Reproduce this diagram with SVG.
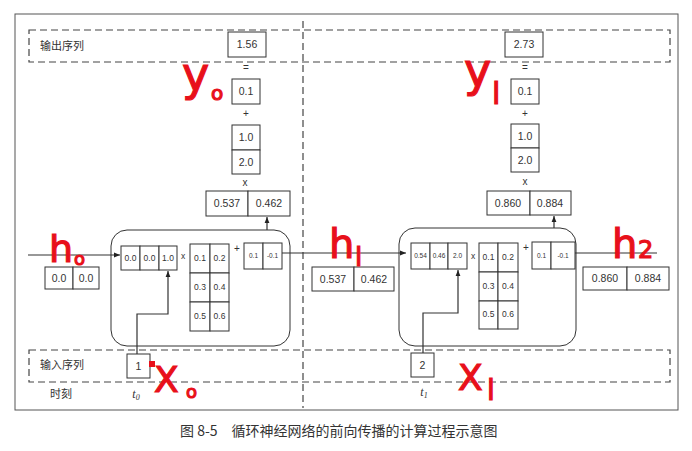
<svg xmlns="http://www.w3.org/2000/svg" width="692" height="451" viewBox="0 0 692 451">
<defs>
<marker id="ah" viewBox="0 0 10 10" refX="10" refY="5" markerWidth="6" markerHeight="6" orient="auto" markerUnits="userSpaceOnUse"><path d="M0,1 L10,5 L0,9 z" fill="#222"/></marker>
<style>
.b{fill:#fff;stroke:#333;stroke-width:1}
.ln{fill:none;stroke:#333;stroke-width:1.2}
.d{fill:none;stroke:#444;stroke-width:1.2;stroke-dasharray:7,4}
.t{font-family:"Liberation Sans","Open Sans",sans-serif;fill:#333;text-anchor:middle}
.m{font-size:10.5px}
.s{font-size:8.5px}
.xs{font-size:6.5px}
.op{font-size:10px}
.cn{font-family:"Noto Sans CJK SC",sans-serif;fill:#333;font-size:11px}
.r{font-family:"DejaVu Sans",sans-serif;fill:#e8101a;stroke:#e8101a;stroke-width:1.2}
</style>
</defs>
<rect x="0" y="0" width="692" height="451" fill="#fff"/>
<rect x="15" y="14" width="663" height="396" fill="none" stroke="#555" stroke-width="1"/>
<g id="output-seq">
<rect class="d" x="29" y="30" width="641" height="32"/>
<text class="cn" x="40" y="50">输出序列</text>
</g>
<g id="input-seq">
<rect class="d" x="29" y="350" width="641" height="32"/>
<text class="cn" x="40" y="369">输入序列</text>
<text class="cn" x="50" y="398">时刻</text>
</g>
<line x1="303" y1="21" x2="303" y2="408" class="d"/>
<g id="connectors">
<line class="ln" x1="28" y1="255" x2="120" y2="255" marker-end="url(#ah)"/>
<line class="ln" x1="282" y1="253" x2="406" y2="253" marker-end="url(#ah)"/>
<line class="ln" x1="575" y1="253" x2="657" y2="253"/>
<polyline class="ln" points="137,354 137,314 168,314 168,271" marker-end="url(#ah)"/>
<polyline class="ln" points="423,353 423,313 458,313 458,270" marker-end="url(#ah)"/>
<line class="ln" x1="267" y1="230" x2="267" y2="217" marker-end="url(#ah)"/>
<line class="ln" x1="554" y1="228" x2="554" y2="216" marker-end="url(#ah)"/>
</g>
<g id="y0">
<rect class="b" x="228" y="32" width="38" height="25"/><text class="t m" x="247" y="48">1.56</text>
<text class="t op" x="246" y="71">=</text>
<rect class="b" x="232" y="79" width="28" height="25"/><text class="t m" x="246" y="95">0.1</text>
<text class="t op" x="246" y="117">+</text>
<rect class="b" x="232" y="125" width="28" height="25"/><text class="t m" x="246" y="141">1.0</text>
<rect class="b" x="232" y="150" width="28" height="24"/><text class="t m" x="246" y="166">2.0</text>
<text class="t op" x="245" y="186">x</text>
<rect class="b" x="206" y="191" width="42" height="25"/><text class="t m" x="227" y="207">0.537</text>
<rect class="b" x="248" y="191" width="42" height="25"/><text class="t m" x="269" y="207">0.462</text>
</g>
<g id="y1">
<rect class="b" x="505" y="32" width="38" height="25"/><text class="t m" x="524" y="48">2.73</text>
<text class="t op" x="525" y="71">=</text>
<rect class="b" x="511" y="79" width="28" height="25"/><text class="t m" x="525" y="95">0.1</text>
<text class="t op" x="525" y="117">+</text>
<rect class="b" x="511" y="124" width="28" height="24"/><text class="t m" x="525" y="140">1.0</text>
<rect class="b" x="511" y="148" width="28" height="24"/><text class="t m" x="525" y="164">2.0</text>
<text class="t op" x="525" y="185">x</text>
<rect class="b" x="487" y="191" width="43" height="24"/><text class="t m" x="508" y="207">0.860</text>
<rect class="b" x="530" y="191" width="41" height="24"/><text class="t m" x="550" y="207">0.884</text>
</g>
<g id="h0">
<rect class="b" x="45" y="267" width="28" height="22"/><text class="t m" x="59" y="282">0.0</text>
<rect class="b" x="73" y="267" width="26" height="22"/><text class="t m" x="86" y="282">0.0</text>
</g>
<g id="h1">
<rect class="b" x="312" y="267" width="42" height="24"/><text class="t m" x="333" y="283">0.537</text>
<rect class="b" x="354" y="267" width="40" height="24"/><text class="t m" x="374" y="283">0.462</text>
</g>
<g id="h2">
<rect class="b" x="583" y="267" width="44" height="23"/><text class="t m" x="605" y="282">0.860</text>
<rect class="b" x="627" y="267" width="42" height="23"/><text class="t m" x="648" y="282">0.884</text>
</g>
<g id="cell0">
<rect class="b" x="111" y="230" width="179" height="116" rx="16" style="fill:none" stroke-width="1.3"/>
<rect class="b" x="121" y="246" width="19" height="24"/><text class="t s" x="130.5" y="261">0.0</text>
<rect class="b" x="140" y="246" width="19" height="24"/><text class="t s" x="149.5" y="261">0.0</text>
<rect class="b" x="159" y="246" width="18" height="24"/><text class="t s" x="168" y="261">1.0</text>
<text class="t s" x="183" y="259">x</text>
<rect class="b" x="190" y="244" width="20" height="29"/><text class="t s" x="200" y="261">0.1</text>
<rect class="b" x="210" y="244" width="19" height="29"/><text class="t s" x="219.5" y="261">0.2</text>
<rect class="b" x="190" y="273" width="20" height="29"/><text class="t s" x="200" y="290">0.3</text>
<rect class="b" x="210" y="273" width="19" height="29"/><text class="t s" x="219.5" y="290">0.4</text>
<rect class="b" x="190" y="302" width="20" height="29"/><text class="t s" x="200" y="319">0.5</text>
<rect class="b" x="210" y="302" width="19" height="29"/><text class="t s" x="219.5" y="319">0.6</text>
<text class="t op" x="237" y="252">+</text>
<rect class="b" x="244" y="243" width="19" height="26"/><text class="t xs" x="253.5" y="258">0.1</text>
<rect class="b" x="263" y="243" width="19" height="26"/><text class="t xs" x="272.5" y="258">-0.1</text>
</g>
<g id="cell1">
<rect class="b" x="399" y="228" width="177" height="118" rx="16" style="fill:none" stroke-width="1.3"/>
<rect class="b" x="411" y="243" width="19" height="26"/><text class="t xs" x="420.5" y="258">0.54</text>
<rect class="b" x="430" y="243" width="18" height="26"/><text class="t xs" x="439" y="258">0.46</text>
<rect class="b" x="448" y="243" width="19" height="26"/><text class="t xs" x="457.5" y="258">2.0</text>
<text class="t s" x="473" y="259">x</text>
<rect class="b" x="479" y="243" width="19" height="29"/><text class="t s" x="488.5" y="260">0.1</text>
<rect class="b" x="498" y="243" width="20" height="29"/><text class="t s" x="508" y="260">0.2</text>
<rect class="b" x="479" y="272" width="19" height="29"/><text class="t s" x="488.5" y="289">0.3</text>
<rect class="b" x="498" y="272" width="20" height="29"/><text class="t s" x="508" y="289">0.4</text>
<rect class="b" x="479" y="301" width="19" height="28"/><text class="t s" x="488.5" y="317">0.5</text>
<rect class="b" x="498" y="301" width="20" height="28"/><text class="t s" x="508" y="317">0.6</text>
<text class="t op" x="526" y="251">+</text>
<rect class="b" x="532" y="242" width="19" height="27"/><text class="t xs" x="541.5" y="258">0.1</text>
<rect class="b" x="551" y="242" width="24" height="27"/><text class="t xs" x="563" y="258">-0.1</text>
</g>
<g id="x0">
<rect class="b" x="127" y="354" width="23" height="24"/><text class="t m" x="138.5" y="370">1</text>
<text class="t" x="136" y="398" style="font-size:12px;font-family:'Liberation Serif',serif;font-style:italic">t<tspan font-size="8" dy="2">0</tspan></text>
</g>
<g id="x1">
<rect class="b" x="411" y="353" width="23" height="24"/><text class="t m" x="422.5" y="369">2</text>
<text class="t" x="424" y="396" style="font-size:12px;font-family:'Liberation Serif',serif;font-style:italic">t<tspan font-size="8" dy="2">1</tspan></text>
</g>
<text class="cn" x="180" y="436" style="font-size:14px">图 8-5　循环神经网络的前向传播的计算过程示意图</text>
<g id="annotations">
<text class="r" x="182" y="90" style="font-size:46px">y</text><text class="r" x="211" y="100" style="font-size:20px">o</text>
<text class="r" x="464" y="86" style="font-size:46px">y</text><text class="r" x="492" y="104" style="font-size:30px">l</text>
<text class="r" x="49" y="262" style="font-size:38px">h</text><text class="r" x="74" y="265" style="font-size:18px">o</text>
<text class="r" x="329" y="258" style="font-size:40px">h</text><text class="r" x="355" y="266" style="font-size:26px">l</text>
<text class="r" x="612" y="258" style="font-size:40px">h</text><text class="r" x="638" y="258" style="font-size:24px">2</text>
<rect x="149" y="361" width="6" height="6" fill="#e8101a"/>
<text class="r" x="154" y="392" style="font-size:36px">X</text><text class="r" x="186" y="398" style="font-size:18px">o</text>
<text class="r" x="458" y="390" style="font-size:36px">X</text><text class="r" x="487" y="400" style="font-size:28px">l</text>
</g>
</svg>
